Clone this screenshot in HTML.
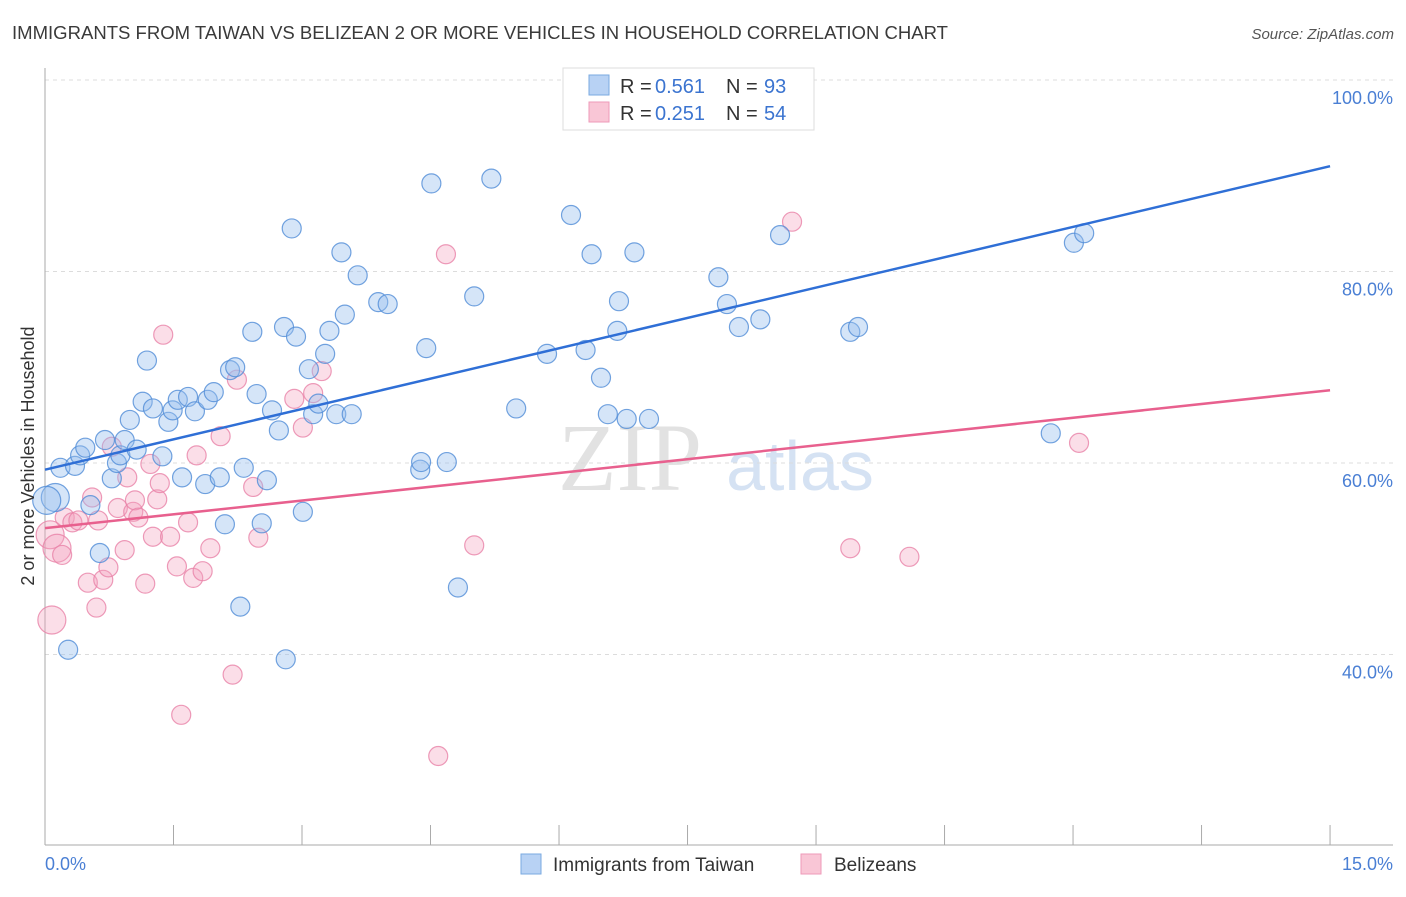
<!DOCTYPE html>
<html><head><meta charset="utf-8"><style>
body{margin:0;background:#fff;font-family:"Liberation Sans",sans-serif}
</style></head><body>
<svg id="chart" width="1406" height="892" xmlns="http://www.w3.org/2000/svg" style="font-family:'Liberation Sans',sans-serif">
<text x="12" y="39" font-size="18" fill="#3a3a3a" textLength="936" lengthAdjust="spacingAndGlyphs">IMMIGRANTS FROM TAIWAN VS BELIZEAN 2 OR MORE VEHICLES IN HOUSEHOLD CORRELATION CHART</text>
<text x="1394" y="39" font-size="15" fill="#555" text-anchor="end" font-style="italic">Source: ZipAtlas.com</text>
<g id="watermark">
<text x="630" y="490" font-size="96" fill="#e2e2e2" font-family="Liberation Serif" text-anchor="middle">ZIP</text>
<text x="800" y="490" font-size="70" fill="#d5e2f3" text-anchor="middle">atlas</text>
</g>
<g id="grid"></g>
<g id="pts"></g>
<g id="lines"></g>
<text transform="translate(34,456) rotate(-90)" font-size="18" fill="#333" text-anchor="middle">2 or more Vehicles in Household</text>
<g>
<rect x="563" y="68" width="251" height="62" fill="#fff" stroke="#ddd"/>
<rect x="589" y="75" width="20" height="20" fill="#b8d2f4" stroke="#7aaae0"/>
<rect x="589" y="102" width="20" height="20" fill="#f9c6d6" stroke="#ee9ab8"/>
<text x="620" y="93" font-size="20" fill="#333">R =</text>
<text x="655" y="93" font-size="20" fill="#3b74d0">0.561</text>
<text x="726" y="93" font-size="20" fill="#333">N =</text>
<text x="764" y="93" font-size="20" fill="#3b74d0">93</text>
<text x="620" y="120" font-size="20" fill="#333">R =</text>
<text x="655" y="120" font-size="20" fill="#3b74d0">0.251</text>
<text x="726" y="120" font-size="20" fill="#333">N =</text>
<text x="764" y="120" font-size="20" fill="#3b74d0">54</text>
</g>
<g>
<rect x="521" y="854" width="20" height="20" fill="#b8d2f4" stroke="#7aaae0"/>
<text x="553" y="871" font-size="19" fill="#333">Immigrants from Taiwan</text>
<rect x="801" y="854" width="20" height="20" fill="#f9c6d6" stroke="#ee9ab8"/>
<text x="834" y="871" font-size="19" fill="#333">Belizeans</text>
</g>
</svg>
<script>
const yTicks=[40,60,80,100];
const yTickLabels=["40.0%","60.0%","80.0%","100.0%"];
const xTicks=[0,1.5,3,4.5,6,7.5,9,10.5,12,13.5,15];
const xEndLabels=["0.0%","15.0%"];
const blueX=[0.12,0.18,0.27,0.35,0.41,0.47,0.53,0.64,0.70,0.78,0.84,0.88,0.93,0.99,1.07,1.14,1.19,1.26,1.37,1.44,1.49,1.55,1.60,1.67,1.75,1.87,1.90,1.97,2.04,2.10,2.16,2.22,2.28,2.32,2.42,2.47,2.53,2.59,2.65,2.73,2.79,2.81,2.88,2.93,3.01,3.08,3.13,3.19,3.27,3.32,3.40,3.46,3.50,3.58,3.65,3.89,4.00,4.38,4.39,4.45,4.51,4.69,4.82,5.01,5.21,5.50,5.86,6.14,6.31,6.38,6.49,6.57,6.68,6.70,6.79,6.88,7.05,7.86,7.96,8.10,8.35,8.58,9.40,9.49,11.74,12.01,12.13,6.30,0.02];
const blueY=[56.4,59.5,40.5,59.7,60.8,61.6,55.6,50.6,62.4,58.4,60.0,60.8,62.4,64.5,61.4,66.4,70.7,65.7,60.7,64.3,65.5,66.6,58.5,66.9,65.4,57.8,66.6,67.4,58.5,53.6,69.7,70.0,45.0,59.5,73.7,67.2,53.7,58.2,65.5,63.4,74.2,39.5,84.5,73.2,54.9,69.8,65.1,66.2,71.4,73.8,65.1,82.0,75.5,65.1,79.6,76.8,76.6,59.3,60.1,72.0,89.2,60.1,47.0,77.4,89.7,65.7,71.4,85.9,71.8,81.8,68.9,65.1,73.8,76.9,64.6,82.0,64.6,79.4,76.6,74.2,75.0,83.8,73.7,74.2,63.1,83.0,84.0,100.0,56.1];
const pinkX=[0.06,0.08,0.14,0.20,0.23,0.32,0.39,0.50,0.55,0.60,0.62,0.68,0.74,0.78,0.85,0.93,0.96,1.03,1.05,1.09,1.17,1.23,1.26,1.31,1.34,1.38,1.46,1.54,1.59,1.67,1.73,1.77,1.84,1.93,2.05,2.19,2.24,2.43,2.49,2.91,3.01,3.13,3.23,4.68,4.59,5.01,8.72,9.40,10.09,12.07];
const pinkY=[52.5,43.6,51.1,50.4,54.3,53.8,54.0,47.5,56.4,44.9,54.0,47.8,49.1,61.7,55.3,50.9,58.5,54.9,56.1,54.3,47.4,59.9,52.3,56.2,57.9,73.4,52.3,49.2,33.7,53.8,48.0,60.8,48.7,51.1,62.8,37.9,68.7,57.5,52.2,66.7,63.7,67.3,69.6,81.8,29.4,51.4,85.2,51.1,50.2,62.1];
const blueTrend=[59.3,91.0];
const pinkTrend=[53.2,67.6];
const X=v=>45+v*85.67, Y=v=>80+(100-v)*9.575;
const NS="http://www.w3.org/2000/svg";
function mk(tag,parent,attrs){const e=document.createElementNS(NS,tag);for(const k in attrs)e.setAttribute(k,attrs[k]);parent.appendChild(e);return e;}
const grid=document.getElementById('grid');
yTicks.forEach((t,i)=>{
 const l=mk('line',grid,{x1:45,x2:1393,y1:Y(t),y2:Y(t),stroke:'#dcdcdc','stroke-dasharray':'4,4'});
 
 
 const tx=mk('text',grid,{x:1393,y:Y(t)+24,'font-size':18,fill:'#4a7fd4','text-anchor':'end'});
 tx.textContent=yTickLabels[i];
 
 
});
const ax=mk('line',grid,{x1:45,x2:45,y1:68,y2:845,stroke:'#aaa'});


const bx=mk('line',grid,{x1:45,x2:1393,y1:845,y2:845,stroke:'#aaa'});


xTicks.forEach(t=>{
 const l=mk('line',grid,{x1:X(t),x2:X(t),y1:825,y2:845,stroke:'#aaa'});
 
 
});
[[0,'start',45],[15,'end',1393]].forEach((d,i)=>{
 const tx=mk('text',grid,{x:d[2],y:870,'font-size':18,fill:'#4a7fd4','text-anchor':d[1]});
 tx.textContent=xEndLabels[i];
 
 
});
const pts=document.getElementById('pts');
function series(xs,ys,fill,stroke,name){
 xs.forEach((x,i)=>{
  const r=(x<0.15)?14:9.5;
  const c=mk('circle',pts,{cx:X(x),cy:Y(ys[i]),r:r,fill:fill,stroke:stroke,'stroke-width':1.2});
  
  
 });
}
series(pinkX,pinkY,'rgba(244,160,190,0.35)','rgba(232,130,168,0.8)','belizean-point');
series(blueX,blueY,'rgba(150,190,238,0.4)','rgba(80,140,215,0.8)','taiwan-point');
const lines=document.getElementById('lines');
const bl=mk('line',lines,{x1:X(0),y1:Y(blueTrend[0]),x2:X(15),y2:Y(blueTrend[1]),stroke:'#2f6fd6','stroke-width':2.5});


const pl=mk('line',lines,{x1:X(0),y1:Y(pinkTrend[0]),x2:X(15),y2:Y(pinkTrend[1]),stroke:'#e8608e','stroke-width':2.5});


</script>
</body></html>
